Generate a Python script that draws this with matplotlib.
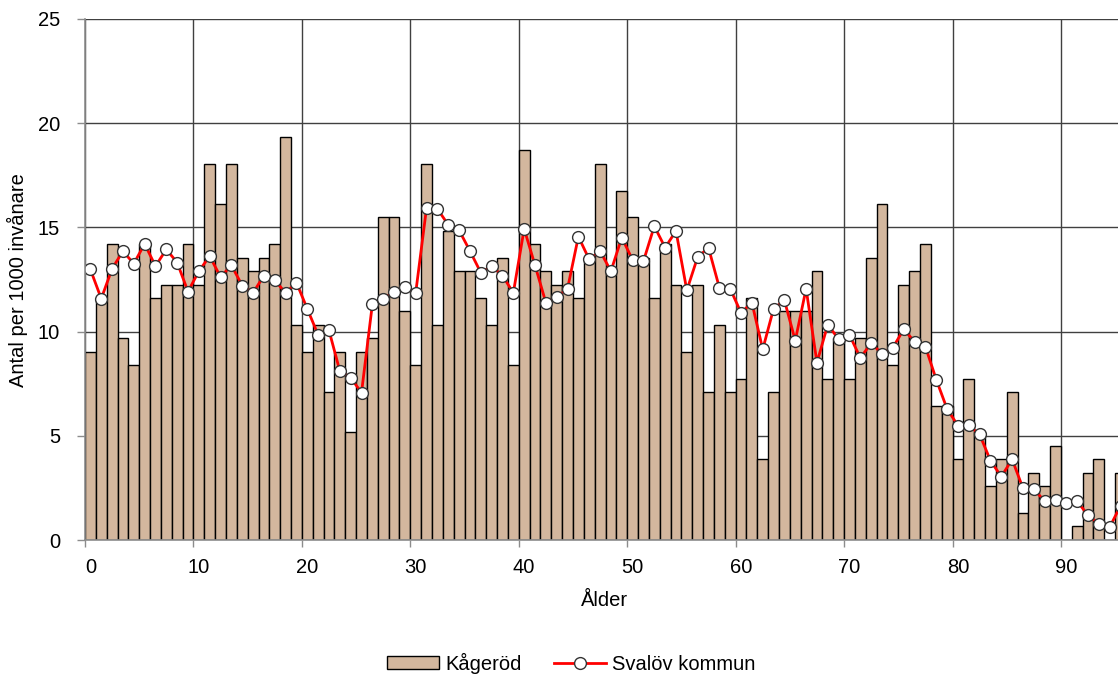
import matplotlib
matplotlib.use("Agg")
import matplotlib.pyplot as plt
from matplotlib.patches import Patch
from matplotlib.lines import Line2D

plt.rcParams['font.family'] = ['Liberation Sans', 'DejaVu Sans']

# Age (years) for each category
ages = list(range(96))

# Kågeröd: number per 1000 inhabitants by age
kagerod = [
    9.03, 11.61, 14.19, 9.68, 8.39, 14.19, 11.61, 12.26, 12.26, 14.19,
    12.26, 18.06, 16.13, 18.06, 13.55, 12.90, 13.55, 14.19, 19.35, 10.32,
    9.03, 10.32, 7.10, 9.03, 5.16, 9.03, 9.68, 15.48, 15.48, 10.97,
    8.39, 18.06, 10.32, 14.84, 12.90, 12.90, 11.61, 10.32, 13.55, 8.39,
    18.71, 14.19, 12.90, 12.26, 12.90, 11.61, 13.55, 18.06, 12.90, 16.77,
    15.48, 13.55, 11.61, 14.19, 12.26, 9.03, 12.26, 7.10, 10.32, 7.10,
    7.74, 11.61, 3.87, 7.10, 10.97, 10.97, 10.97, 12.90, 7.74, 9.68,
    7.74, 9.68, 13.55, 16.13, 8.39, 12.26, 12.90, 14.19, 6.45, 6.45,
    3.87, 7.74, 5.16, 2.58, 3.87, 7.10, 1.29, 3.23, 2.58, 4.52,
    0.00, 0.65, 3.23, 3.87, 0.00, 3.23,
]

# Svalöv kommun: number per 1000 inhabitants by age
svalov = [
    12.98, 11.58, 13.02, 13.86, 13.26, 14.21, 13.14, 13.95, 13.31, 11.92,
    12.90, 13.62, 12.62, 13.18, 12.21, 11.86, 12.69, 12.46, 11.86, 12.35,
    11.09, 9.84, 10.06, 8.11, 7.79, 7.07, 11.31, 11.58, 11.92, 12.13,
    11.87, 15.95, 15.89, 15.12, 14.86, 13.87, 12.83, 13.14, 12.69, 11.86,
    14.93, 13.18, 11.39, 11.65, 12.06, 14.56, 13.46, 13.87, 12.90, 14.51,
    13.44, 13.38, 15.06, 14.03, 14.83, 11.98, 13.58, 14.02, 12.11, 12.06,
    10.90, 11.39, 9.15, 11.10, 11.50, 9.57, 12.06, 8.51, 10.34, 9.63,
    9.84, 8.74, 9.44, 8.94, 9.23, 10.11, 9.52, 9.28, 7.70, 6.29,
    5.49, 5.50, 5.07, 3.81, 3.04, 3.87, 2.48, 2.43, 1.87, 1.92,
    1.76, 1.86, 1.18, 0.78, 0.62, 1.65,
]

y_ticks = [0, 5, 10, 15, 20, 25]
x_label_ticks = list(range(0, 100, 10))

bar_color = '#D3B79E'
grid_color = '#404040'
axis_color = '#8C8C8C'
fs = 14.5

W, H = 1118, 675
fig = plt.figure(figsize=(W / 100, H / 100), dpi=100)
# plot area runs from x=85 px to x=1126 px (slightly beyond the right edge)
left_px, right_px, top_px, bottom_px = 85, 1126, 19, 540
ax = fig.add_axes([left_px / W, 1 - bottom_px / H,
                   (right_px - left_px) / W, (bottom_px - top_px) / H])

ax.set_axisbelow(True)
ax.bar(ages, kagerod, width=1.0, color=bar_color, edgecolor='black',
       linewidth=1.0, zorder=2)
ax.plot(ages, svalov, color='#FF0000', linewidth=2.0, marker='o',
        markersize=8.5, markerfacecolor='white', markeredgecolor='#333333',
        markeredgewidth=1.0, zorder=3)

ax.set_xlim(-0.5, len(ages) - 0.5)
ax.set_ylim(0, 25)

# category boundaries carry the tick marks and vertical grid lines
ax.set_xticks([t - 0.5 for t in x_label_ticks])
ax.set_xticklabels([])
ax.set_xticks(x_label_ticks, minor=True)
ax.set_xticklabels([str(t) for t in x_label_ticks], minor=True, fontsize=fs)
ax.tick_params(axis='x', which='major', length=5, width=1, color=axis_color,
               direction='out')
ax.tick_params(axis='x', which='minor', length=0, pad=13)

ax.set_yticks(y_ticks)
ax.set_yticklabels([str(t) for t in y_ticks], fontsize=fs)
ax.tick_params(axis='y', length=6, width=1, color=axis_color, pad=12)

ax.grid(True, which='major', axis='both', color=grid_color, linewidth=1.0)

for side in ('top', 'right'):
    ax.spines[side].set_visible(False)
for side in ('left', 'bottom'):
    ax.spines[side].set_color(axis_color)
    ax.spines[side].set_linewidth(1.2)
    ax.spines[side].set_zorder(4)

fig.text(17.5 / W, 1 - 280 / H, 'Antal per 1000 invånare', rotation=90,
         ha='center', va='center', fontsize=fs)
fig.text(605 / W, 1 - 601 / H, 'Ålder', ha='center', va='center', fontsize=fs)

handles = [
    Patch(facecolor=bar_color, edgecolor='black', linewidth=1.0),
    Line2D([], [], color='#FF0000', linewidth=2.0, marker='o', markersize=8.5,
           markerfacecolor='white', markeredgecolor='#333333',
           markeredgewidth=1.0),
]
fig.legend(handles, ['Kågeröd', 'Svalöv kommun'], loc='center',
           bbox_to_anchor=(571 / W, 1 - 663 / H), ncol=2, frameon=False,
           fontsize=fs, handlelength=2.6, handleheight=0.6, handletextpad=0.3,
           columnspacing=1.6)

fig.savefig('out.png', dpi=100)
